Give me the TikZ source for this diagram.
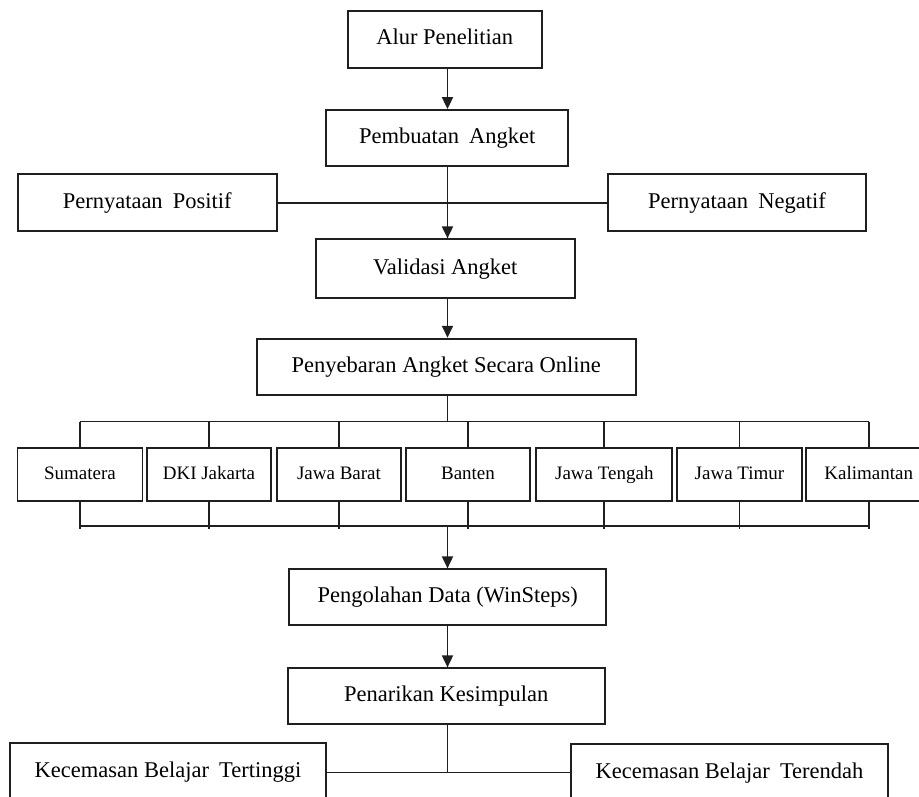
\documentclass[tikz,border=0pt]{standalone}
\usepackage{fontspec}
\setmainfont{Liberation Serif}
\usetikzlibrary{arrows.meta}
\begin{document}
\begin{tikzpicture}[x=1pt,y=-1pt,
  box/.style={draw=black!88, line width=1.8pt, rectangle, inner sep=0pt, align=center,
              text height=15pt, text depth=4pt,
              font=\fontsize{22.5}{26}\selectfont, text=black},
  regbox/.style={box, minimum height=52.7pt, text height=13pt, text depth=3.5pt,
              font=\fontsize{19}{22}\selectfont},
  link/.style={draw=black!88, line width=1.8pt},
  arr/.style={link, -{Triangle[length=12pt,width=11pt]}}]
\useasboundingbox (0,0) rectangle (919,797);
\clip (0,0) rectangle (919,797);
\coordinate (main) at (447.5,0);
\coordinate (busT) at (0,421.5);
\coordinate (busB) at (0,526);
\coordinate (hb) at (0,772.5);
% main chain
\node[box, minimum width=194pt, minimum height=56.7pt] (alur) at (444.7,39.3) {Alur Penelitian};
\node[box, minimum width=242.3pt, minimum height=56pt] (buat) at (447.2,138) {Pembuatan\hspace{0.2em} Angket};
\node[box, minimum width=259pt, minimum height=56.7pt] (pos) at (147.2,202.7) {Pernyataan\hspace{0.2em} Positif};
\node[box, minimum width=258.6pt, minimum height=56.7pt] (neg) at (737,202.7) {Pernyataan\hspace{0.2em} Negatif};
\node[box, minimum width=258.7pt, minimum height=58.4pt] (valid) at (445.3,268.5) {Validasi Angket};
\node[box, minimum width=379.3pt, minimum height=56.3pt] (sebar) at (446.3,366.8) {Penyebaran Angket Secara Online};
% regions
\node[regbox, minimum width=125pt] (sum) at (80,474.7) {Sumatera};
\node[regbox, minimum width=124.7pt] (dki) at (209,474.7) {DKI Jakarta};
\node[regbox, minimum width=124.7pt] (jabar) at (339,474.7) {Jawa Barat};
\node[regbox, minimum width=124.7pt] (banten) at (468,474.7) {Banten};
\node[regbox, minimum width=136pt] (jateng) at (604.3,474.7) {Jawa Tengah};
\node[regbox, minimum width=124.4pt] (jatim) at (739.5,474.7) {Jawa Timur};
\node[regbox, minimum width=124.7pt] (kal) at (868.7,474.7) {Kalimantan};
% lower chain
\node[box, minimum width=317pt, minimum height=56pt] (olah) at (447.8,597.3) {Pengolahan Data (WinSteps)};
\node[box, minimum width=316.7pt, minimum height=56pt] (tarik) at (446.3,696.3) {Penarikan Kesimpulan};
\node[box, minimum width=316pt, minimum height=57pt] (tinggi) at (168,771.8) {Kecemasan Belajar\hspace{0.2em} Tertinggi};
\node[box, minimum width=317pt, minimum height=57pt] (rendah) at (729.5,772.8) {Kecemasan Belajar\hspace{0.2em} Terendah};
% connectors
\draw[arr] (alur.south -| main) -- (buat.north -| main);
\draw[link] (pos.east) -- (neg.west);
\draw[arr] (buat.south -| main) -- (valid.north -| main);
\draw[arr] (valid.south -| main) -- (sebar.north -| main);
\draw[link] (sebar.south -| main) -- (busT -| main);
\draw[link] (busT -| sum.north) -- (busT -| kal.north);
\foreach \n in {sum,dki,jabar,banten,jateng,jatim,kal}{
  \draw[link] (busT -| \n.north) -- (\n.north);
  \draw[link] (\n.south) -- ([yshift=-3pt]busB -| \n.south);
}
\draw[link] (busB -| sum.south) -- (busB -| kal.south);
\draw[arr] (busB -| main) -- (olah.north -| main);
\draw[arr] (olah.south -| main) -- (tarik.north -| main);
\draw[link] (tarik.south -| main) -- (hb -| main);
\draw[link] (tinggi.east |- hb) -- (rendah.west |- hb);
\end{tikzpicture}
\end{document}
